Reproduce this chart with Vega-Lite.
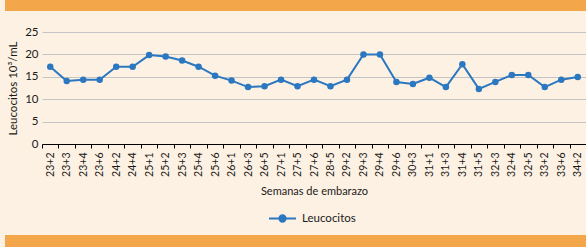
{
  "$schema": "https://vega.github.io/schema/vega-lite/v6.json",
  "background": "#FDF1E3",
  "padding": 0,
  "config": {
    "font": "Lato",
    "view": {"stroke": null}
  },
  "bounds": "flush",
  "spacing": 0,
  "vconcat": [
    {
      "width": 586,
      "height": 11,
      "data": {"values": []},
      "mark": "rect",
      "view": {"fill": "#F4A64B", "stroke": null}
    },
    {
      "width": 586,
      "height": 21,
      "data": {"values": []},
      "mark": "rect",
      "view": {"stroke": null}
    },
    {
      "width": 586,
      "height": 112,
      "data": {
        "values": [
          {"semana": "23+2", "valor": 17.25, "serie": "Leucocitos"},
          {"semana": "23+3", "valor": 14.07, "serie": "Leucocitos"},
          {"semana": "23+4", "valor": 14.36, "serie": "Leucocitos"},
          {"semana": "23+6", "valor": 14.36, "serie": "Leucocitos"},
          {"semana": "24+2", "valor": 17.25, "serie": "Leucocitos"},
          {"semana": "24+4", "valor": 17.25, "serie": "Leucocitos"},
          {"semana": "25+1", "valor": 19.85, "serie": "Leucocitos"},
          {"semana": "25+2", "valor": 19.55, "serie": "Leucocitos"},
          {"semana": "25+3", "valor": 18.65, "serie": "Leucocitos"},
          {"semana": "25+4", "valor": 17.25, "serie": "Leucocitos"},
          {"semana": "25+6", "valor": 15.25, "serie": "Leucocitos"},
          {"semana": "26+1", "valor": 14.15, "serie": "Leucocitos"},
          {"semana": "26+3", "valor": 12.7, "serie": "Leucocitos"},
          {"semana": "26+5", "valor": 12.9, "serie": "Leucocitos"},
          {"semana": "27+1", "valor": 14.36, "serie": "Leucocitos"},
          {"semana": "27+5", "valor": 12.9, "serie": "Leucocitos"},
          {"semana": "27+6", "valor": 14.36, "serie": "Leucocitos"},
          {"semana": "28+5", "valor": 12.9, "serie": "Leucocitos"},
          {"semana": "29+2", "valor": 14.36, "serie": "Leucocitos"},
          {"semana": "29+3", "valor": 20.0, "serie": "Leucocitos"},
          {"semana": "29+4", "valor": 20.0, "serie": "Leucocitos"},
          {"semana": "29+6", "valor": 13.85, "serie": "Leucocitos"},
          {"semana": "30+3", "valor": 13.4, "serie": "Leucocitos"},
          {"semana": "31+1", "valor": 14.8, "serie": "Leucocitos"},
          {"semana": "31+3", "valor": 12.7, "serie": "Leucocitos"},
          {"semana": "31+4", "valor": 17.8, "serie": "Leucocitos"},
          {"semana": "31+5", "valor": 12.3, "serie": "Leucocitos"},
          {"semana": "32+3", "valor": 13.85, "serie": "Leucocitos"},
          {"semana": "32+4", "valor": 15.4, "serie": "Leucocitos"},
          {"semana": "32+5", "valor": 15.4, "serie": "Leucocitos"},
          {"semana": "33+2", "valor": 12.7, "serie": "Leucocitos"},
          {"semana": "33+6", "valor": 14.36, "serie": "Leucocitos"},
          {"semana": "34+2", "valor": 14.95, "serie": "Leucocitos"}
        ]
      },
      "encoding": {
        "x": {
          "field": "semana",
          "type": "ordinal",
          "sort": null,
          "scale": {"type": "band", "paddingInner": 0, "paddingOuter": 0, "range": [37, 581]},
          "axis": {
            "title": "Semanas de embarazo",
            "titleFontSize": 11,
            "titleFontWeight": "normal",
            "titleColor": "#1a1a1a",
            "titlePadding": 9,
            "labelAngle": -90,
            "labelFontSize": 10.5,
            "labelColor": "#1a1a1a",
            "labelPadding": 4,
            "tickBand": "extent",
            "tickSize": 4,
            "tickColor": "#000000",
            "domainColor": "#000000",
            "grid": false
          }
        },
        "y": {
          "field": "valor",
          "type": "quantitative",
          "scale": {"domain": [0, 25], "nice": false},
          "axis": {
            "title": "Leucocitos 10³/mL",
            "titleFontSize": 11.5,
            "titleFontWeight": "normal",
            "titleColor": "#1a1a1a",
            "titlePadding": 6,
            "offset": -37,
            "values": [0, 5, 10, 15, 20, 25],
            "domain": false,
            "ticks": false,
            "labelPadding": 4,
            "labelFontSize": 11.5,
            "labelColor": "#1a1a1a",
            "gridColor": "#C4C4C4",
            "gridWidth": 1
          }
        },
        "color": {
          "field": "serie",
          "type": "nominal",
          "scale": {"range": ["#2B77C0"]},
          "legend": {
            "title": null,
            "orient": "none",
            "legendX": 263,
            "legendY": 204,
            "labelFontSize": 11.5,
            "labelColor": "#1a1a1a",
            "labelOffset": 5,
            "symbolType": "M-1,0H1M-0.24,0A0.24,0.24 0 1,0 0.24,0A0.24,0.24 0 1,0 -0.24,0",
            "symbolSize": 729,
            "symbolStrokeWidth": 1.8,
            "symbolFillColor": "#2B77C0",
            "symbolStrokeColor": "#2B77C0",
            "encode": {
              "symbols": {
                "update": {
                  "fill": {"value": "#2B77C0"},
                  "stroke": {"value": "#2B77C0"},
                  "strokeWidth": {"value": 1.8},
                  "size": {"value": 729},
                  "shape": {"value": "M-1,0H1M-0.24,0A0.24,0.24 0 1,0 0.24,0A0.24,0.24 0 1,0 -0.24,0"},
                  "opacity": {"value": 1}
                }
              }
            }
          }
        }
      },
      "layer": [
        {"mark": {"type": "line", "strokeWidth": 2}},
        {"mark": {"type": "point", "filled": true, "size": 42, "opacity": 1}}
      ]
    },
    {
      "width": 586,
      "height": 91,
      "data": {"values": []},
      "mark": "rect",
      "view": {"stroke": null}
    },
    {
      "width": 586,
      "height": 12,
      "data": {"values": []},
      "mark": "rect",
      "view": {"fill": "#F4A64B", "stroke": null}
    }
  ]
}
